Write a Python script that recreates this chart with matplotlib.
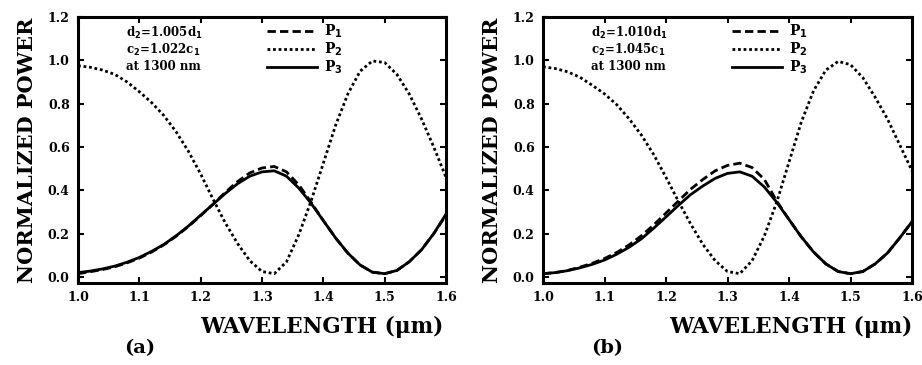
import matplotlib
matplotlib.use("Agg")
import matplotlib.pyplot as plt

wavelength = [1.00, 1.02, 1.04, 1.06, 1.08, 1.10, 1.12, 1.14, 1.16, 1.18, 1.20,
              1.22, 1.24, 1.26, 1.28, 1.30, 1.32, 1.34, 1.36, 1.38, 1.40,
              1.42, 1.44, 1.46, 1.48, 1.50, 1.52, 1.54, 1.56, 1.58, 1.60]

# panel (a)
a_p1 = [0.015, 0.024, 0.034, 0.047, 0.065, 0.087, 0.115, 0.148, 0.188, 0.233, 0.283,
        0.335, 0.39, 0.44, 0.48, 0.503, 0.51, 0.485, 0.425, 0.345, 0.26,
        0.18, 0.11, 0.055, 0.022, 0.015, 0.03, 0.07, 0.125, 0.20, 0.285]
a_p2 = [0.975, 0.968, 0.955, 0.935, 0.90, 0.855, 0.805, 0.745, 0.67, 0.58, 0.475,
        0.36, 0.25, 0.155, 0.075, 0.025, 0.015, 0.07, 0.195, 0.35, 0.525,
        0.70, 0.845, 0.95, 0.997, 0.99, 0.935, 0.845, 0.73, 0.60, 0.46]
a_p3 = [0.02, 0.027, 0.037, 0.05, 0.068, 0.09, 0.118, 0.15, 0.19, 0.235, 0.285,
        0.335, 0.385, 0.43, 0.465, 0.485, 0.49, 0.465, 0.41, 0.34, 0.26,
        0.18, 0.11, 0.055, 0.022, 0.015, 0.03, 0.07, 0.125, 0.20, 0.29]

# panel (b)
b_p1 = [0.015, 0.02, 0.03, 0.045, 0.063, 0.085, 0.113, 0.148, 0.19, 0.24, 0.295,
        0.35, 0.405, 0.45, 0.49, 0.515, 0.525, 0.505, 0.45, 0.35, 0.265,
        0.185, 0.115, 0.06, 0.025, 0.015, 0.025, 0.06, 0.11, 0.18, 0.255]
b_p2 = [0.97, 0.962, 0.947, 0.922, 0.885, 0.845, 0.795, 0.73, 0.655, 0.565, 0.46,
        0.35, 0.245, 0.15, 0.075, 0.025, 0.015, 0.075, 0.19, 0.345, 0.53,
        0.715, 0.86, 0.955, 0.995, 0.98, 0.92, 0.83, 0.73, 0.61, 0.49]
b_p3 = [0.015, 0.02, 0.029, 0.042, 0.058, 0.078, 0.105, 0.137, 0.176, 0.225, 0.277,
        0.33, 0.38, 0.42, 0.455, 0.478, 0.485, 0.465, 0.415, 0.345, 0.265,
        0.185, 0.115, 0.06, 0.025, 0.015, 0.025, 0.06, 0.11, 0.18, 0.255]

series_labels = ["P$_1$", "P$_2$", "P$_3$"]
x_ticks = [1.0, 1.1, 1.2, 1.3, 1.4, 1.5, 1.6]
y_ticks = [0.0, 0.2, 0.4, 0.6, 0.8, 1.0, 1.2]
notes_a = ["d$_2$=1.005d$_1$", "c$_2$=1.022c$_1$", "at 1300 nm"]
notes_b = ["d$_2$=1.010d$_1$", "c$_2$=1.045c$_1$", "at 1300 nm"]
panel_tags = ["(a)", "(b)"]

plt.rcParams['font.family'] = ['DejaVu Serif']
plt.rcParams['font.weight'] = 'bold'
plt.rcParams['mathtext.default'] = 'bf'

fig = plt.figure(figsize=(9.22, 3.65), dpi=100)
W, H = 922, 365
boxes = [(78, 17, 446, 283), (543, 17, 912, 283)]
panels = [(a_p1, a_p2, a_p3, notes_a), (b_p1, b_p2, b_p3, notes_b)]
xlabel_x = [0.663, 0.672]
tag_x = [140, 607]

for i, ((l, t, r, b), (p1, p2, p3, notes)) in enumerate(zip(boxes, panels)):
    ax = fig.add_axes([l / W, 1 - b / H, (r - l) / W, (b - t) / H])
    ax.plot(wavelength, p1, color='black', lw=2.0, linestyle=(0, (3, 1.5)), label=series_labels[0])
    ax.plot(wavelength, p2, color='black', lw=2.0, linestyle=(0, (1, 1)), label=series_labels[1])
    ax.plot(wavelength, p3, color='black', lw=2.0, linestyle='-', label=series_labels[2])
    ax.set_xlim(1.0, 1.6)
    ax.set_ylim(-0.028, 1.2)
    ax.set_xticks(x_ticks)
    ax.set_yticks(y_ticks)
    ax.set_xticklabels([f"{v:.1f}" for v in x_ticks], fontsize=9, fontweight='bold')
    ax.set_yticklabels([f"{v:.1f}" for v in y_ticks], fontsize=9, fontweight='bold')
    ax.tick_params(direction='in', top=True, right=True, length=4, width=1.5, pad=6)
    for s in ax.spines.values():
        s.set_linewidth(2.2)
    ax.set_xlabel("WAVELENGTH (μm)", fontsize=15.5, fontweight='bold')
    ax.xaxis.set_label_coords(xlabel_x[i], -0.125)
    ax.set_ylabel("NORMALIZED POWER", fontsize=15, fontweight='bold', labelpad=8)
    for j, txt in enumerate(notes):
        ax.text(0.13, 0.94 - j * 0.063, txt, transform=ax.transAxes, fontsize=8.5,
                fontweight='bold', va='center', ha='left')
    ax.legend(loc='upper left', bbox_to_anchor=(0.49, 1.01), frameon=False,
              handlelength=3.6, fontsize=10, labelspacing=0.05,
              handletextpad=0.5, borderaxespad=0.2)
    fig.text(tag_x[i] / W, 1 - 348 / H, panel_tags[i], fontsize=14,
             fontweight='bold', ha='center', va='center')

fig.savefig("out.png", dpi=100)
